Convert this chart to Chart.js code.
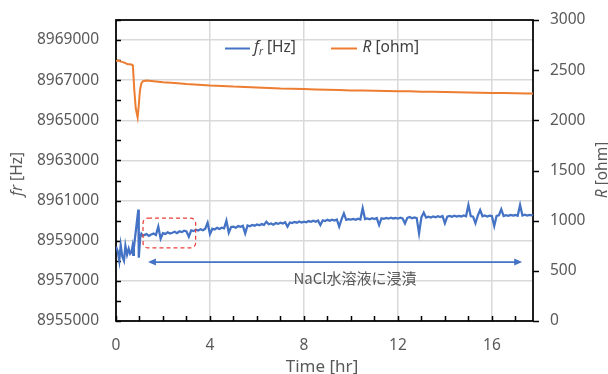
<!DOCTYPE html>
<html><head><meta charset="utf-8">
<script src="https://cdn.jsdelivr.net/npm/chart.js@4.4.1/dist/chart.umd.min.js"></script>
<style>html,body{margin:0;padding:0;background:#fff;}#wrap{width:608px;height:374px;}</style>
</head><body><div id="wrap"><canvas id="c" width="608" height="374"></canvas></div>
<script>
// ---- data ----
const fTime = [0.00,0.07,0.14,0.20,0.27,0.34,0.40,0.47,0.54,0.60,0.66,0.70,0.73,0.76,0.95,0.97,1.03,1.08,1.14,
1.2,1.3,1.4,1.5,1.6,1.7,1.8,1.9,2.0,2.1,2.2,2.3,2.4,2.5,2.6,2.7,2.8,2.9,3.0,3.1,3.2,3.3,3.4,3.5,3.6,3.7,3.8,3.9,
4.0,4.1,4.2,4.3,4.4,4.5,4.6,4.7,4.8,4.9,5.0,5.1,5.2,5.3,5.4,5.5,5.6,5.7,5.8,5.9,6.0,6.1,6.2,6.3,6.4,6.5,6.6,6.7,6.8,6.9,
7.0,7.1,7.2,7.3,7.4,7.5,7.6,7.7,7.8,7.9,8.0,8.1,8.2,8.3,8.4,8.5,8.6,8.7,8.8,8.9,9.0,9.1,9.2,9.3,9.4,9.5,9.6,9.7,9.8,9.9,
10.0,10.1,10.2,10.3,10.4,10.5,10.6,10.7,10.8,10.9,11.0,11.1,11.2,11.3,11.4,11.5,11.6,11.7,11.8,11.9,
12.0,12.1,12.2,12.3,12.4,12.5,12.6,12.7,12.8,12.9,13.0,13.1,13.2,13.3,13.4,13.5,13.6,13.7,13.8,13.9,
14.0,14.1,14.2,14.3,14.4,14.5,14.6,14.7,14.8,14.9,15.0,15.1,15.2,15.3,15.4,15.5,15.6,15.7,15.8,15.9,
16.0,16.1,16.2,16.3,16.4,16.5,16.6,16.7,16.8,16.9,17.0,17.1,17.2,17.3,17.4,17.5,17.6,17.7,17.75];
const fHz = [8958700,8958500,8958000,8958780,8958200,8958000,8958750,8958300,8958600,8958350,8958450,8958700,8958300,8958650,8960550,8958150,8959150,8959350,8959260,
8959280,8959330,8959240,8959310,8959360,8959290,8959700,8959100,8959380,8959340,8959420,8959360,8959400,8959450,8959380,8959470,8959430,8959500,8959460,8959200,8959520,8959480,8959550,8959510,8959570,8959520,8959600,8959900,
8959330,8959600,8959560,8959640,8959590,8959650,8959620,8960000,8959400,8959680,8959700,8959650,8959730,8959690,8959740,8959370,8959760,8959720,8959790,8959750,8959810,8959770,8959830,8959790,8959950,8959820,8959860,8959800,8959880,8959840,
8959900,8959860,8959920,8959700,8959910,8959880,8959940,8959900,8959960,8959910,8959950,8959920,8959980,8959940,8960000,8959950,8960010,8959780,8960020,8959980,8960040,8959990,8960050,8960010,8960060,8959700,8960060,8960360,8960040,8960080,
8960050,8960090,8960040,8960100,8960060,8960620,8960080,8960110,8960070,8960120,8960080,8960130,8959780,8960120,8960090,8960140,8960100,8960150,8960110,8960140,
8960100,8960150,8960110,8959860,8960140,8960180,8960120,8960160,8960130,8959370,8960170,8960400,8960150,8960200,8960160,8960210,8960170,8960220,8960180,8960230,
8959870,8960200,8960240,8960190,8960250,8960200,8960240,8960210,8960260,8960220,8960780,8960230,8960200,8959870,8960250,8960530,8960220,8960260,8960210,8960250,
8960230,8959730,8960240,8960270,8960570,8960230,8960270,8960240,8960290,8960250,8960280,8960240,8960780,8960260,8960300,8960250,8960290,8960270,8960300];
const rTime = [0.00,0.1,0.2,0.3,0.4,0.5,0.6,0.7,0.72,0.78,0.84,0.92,0.97,1.02,1.08,1.15,1.3,1.5,2.0,2.5,3.0,3.5,4.0,4.5,5.0,5.5,6.0,6.5,7.0,7.5,
8.0,8.5,9.0,9.5,10.0,10.5,11.0,11.5,12.0,12.5,13.0,13.5,14.0,14.5,15.0,15.5,16.0,16.5,17.0,17.5,17.75];
const rOhm = [2592,2598,2585,2580,2570,2560,2558,2552,2540,2300,2120,2030,2150,2300,2370,2390,2396,2392,2380,2372,2362,2355,2346,2343,2336,2333,2327,2323,2318,2316,
2312,2308,2305,2303,2298,2297,2294,2292,2290,2289,2285,2285,2282,2281,2278,2276,2273,2272,2270,2268,2268];
const xTicks = [0,4,8,12,16];
const fTicks = [8955000,8957000,8959000,8961000,8963000,8965000,8967000,8969000];
const rTicks = [0,500,1000,1500,2000,2500,3000];
const noteText = 'NaCl水溶液に浸漬';
const boxRange = {x0:1.15, x1:3.39, y0:8958640, y1:8960130};
const arrowRange = {x0:1.36, x1:17.29, y:8957940};

// ---- styles ----
const FONT = '"Noto Sans", sans-serif';
const GRAY = '#595959';
const BLUE = '#4472C4', ORANGE = '#ED7D31';

function richText(ctx, parts, x, y, align) {
  let w = 0;
  parts.forEach(p => { ctx.font = p.font; p.w = ctx.measureText(p.t).width; w += p.w; });
  let cx = align === 'center' ? x - w/2 : x;
  parts.forEach(p => { ctx.font = p.font; ctx.fillText(p.t, cx, y + (p.dy||0)); cx += p.w; });
}
function noPad(s) { s.paddingTop = 0; s.paddingBottom = 0; s.paddingLeft = 0; s.paddingRight = 0; }

const overlay = {
  id: 'overlay',
  beforeDatasetsDraw(chart) {
    const {ctx, chartArea: a, scales} = chart;
    ctx.save();
    ctx.strokeStyle = '#000';
    ctx.lineWidth = 1.5;
    ctx.beginPath();
    const yl = scales.yL, yr = scales.yR, x = scales.x;
    for (let v = yl.min; v <= yl.max; v += 1000) {
      const p = Math.round(yl.getPixelForValue(v)) + 0.5;
      ctx.moveTo(a.left, p); ctx.lineTo(a.left + 5, p);
    }
    for (let v = 0; v <= x.max; v += 1) {
      const p = Math.round(x.getPixelForValue(v)) + 0.5;
      ctx.moveTo(p, a.bottom); ctx.lineTo(p, a.bottom - 5);
    }
    for (let v = yr.min; v <= yr.max; v += 500) {
      const p = Math.round(yr.getPixelForValue(v)) + 0.5;
      ctx.moveTo(a.right, p); ctx.lineTo(a.right + 6, p);
    }
    ctx.stroke();
    ctx.lineWidth = 1.75;
    ctx.strokeRect(a.left, a.top, a.right - a.left, a.bottom - a.top);
    ctx.restore();
  },
  afterDatasetsDraw(chart) {
    const {ctx, chartArea: a, scales} = chart;
    const x = scales.x, yl = scales.yL;
    ctx.save();
    // red dashed box
    const bx0 = x.getPixelForValue(boxRange.x0), bx1 = x.getPixelForValue(boxRange.x1);
    const by0 = yl.getPixelForValue(boxRange.y1), by1 = yl.getPixelForValue(boxRange.y0);
    ctx.strokeStyle = '#E8403C'; ctx.lineWidth = 1.25; ctx.setLineDash([4,3]);
    ctx.beginPath(); ctx.roundRect(bx0, by0, bx1 - bx0, by1 - by0, 5); ctx.stroke();
    ctx.setLineDash([]);
    // double arrow
    const ax0 = x.getPixelForValue(arrowRange.x0), ax1 = x.getPixelForValue(arrowRange.x1);
    const ay = yl.getPixelForValue(arrowRange.y);
    ctx.strokeStyle = BLUE; ctx.fillStyle = BLUE; ctx.lineWidth = 1.75;
    ctx.beginPath(); ctx.moveTo(ax0 + 4, ay); ctx.lineTo(ax1 - 4, ay); ctx.stroke();
    ctx.beginPath(); ctx.moveTo(ax0, ay); ctx.lineTo(ax0 + 8, ay - 3.5); ctx.lineTo(ax0 + 8, ay + 3.5); ctx.closePath(); ctx.fill();
    ctx.beginPath(); ctx.moveTo(ax1, ay); ctx.lineTo(ax1 - 8, ay - 3.5); ctx.lineTo(ax1 - 8, ay + 3.5); ctx.closePath(); ctx.fill();
    // note text
    ctx.fillStyle = GRAY; ctx.textAlign = 'center'; ctx.textBaseline = 'middle';
    ctx.font = '15px "Noto Sans CJK JP", ' + FONT;
    ctx.fillText(noteText, 355, 278);
    // legend
    ctx.textAlign = 'left'; ctx.textBaseline = 'alphabetic';
    ctx.lineWidth = 2;
    ctx.strokeStyle = BLUE; ctx.beginPath(); ctx.moveTo(225, 48.5); ctx.lineTo(250, 48.5); ctx.stroke();
    ctx.strokeStyle = ORANGE; ctx.beginPath(); ctx.moveTo(331, 48.5); ctx.lineTo(357, 48.5); ctx.stroke();
    ctx.fillStyle = '#404040';
    richText(ctx, [{t:'f', font:'italic 15.5px ' + FONT}, {t:'r', font:'italic 10px ' + FONT, dy:3}, {t:' [Hz]', font:'15.5px ' + FONT}], 254, 51.5, 'left');
    richText(ctx, [{t:'R', font:'italic 15.5px ' + FONT}, {t:' [ohm]', font:'15.5px ' + FONT}], 362.5, 51.5, 'left');
    ctx.restore();
  },
  afterDraw(chart) {
    const {ctx} = chart;
    ctx.save();
    ctx.fillStyle = GRAY; ctx.textBaseline = 'alphabetic';
    ctx.translate(22, 174); ctx.rotate(-Math.PI/2);
    richText(ctx, [{t:'fr', font:'italic 15.5px ' + FONT}, {t:' [Hz]', font:'15.5px ' + FONT}], 0, 0, 'center');
    ctx.restore();
    ctx.save();
    ctx.fillStyle = GRAY; ctx.textBaseline = 'alphabetic';
    ctx.translate(606.5, 170); ctx.rotate(-Math.PI/2);
    richText(ctx, [{t:'R', font:'italic 15.5px ' + FONT}, {t:' [ohm]', font:'15.5px ' + FONT}], 0, 0, 'center');
    ctx.restore();
    ctx.save();
    ctx.fillStyle = GRAY; ctx.textBaseline = 'alphabetic'; ctx.textAlign = 'center';
    ctx.font = '17px ' + FONT;
    ctx.fillText('Time [hr]', 322, 371.5);
    ctx.restore();
  }
};

const tickFont = {family: FONT, size: 15.5};
new Chart(document.getElementById('c'), {
  type: 'line',
  data: {
    datasets: [
      {label: 'fr [Hz]', data: fTime.map((t, i) => ({x: t, y: fHz[i]})), borderColor: BLUE, borderWidth: 2.25, pointRadius: 0, xAxisID: 'x', yAxisID: 'yL', tension: 0},
      {label: 'R [ohm]', data: rTime.map((t, i) => ({x: t, y: rOhm[i]})), borderColor: ORANGE, borderWidth: 2, pointRadius: 0, xAxisID: 'x', yAxisID: 'yR', tension: 0}
    ]
  },
  options: {
    responsive: false, animation: false, devicePixelRatio: 1,
    layout: {padding: {top: 20, left: 0, right: 0, bottom: 0}},
    plugins: {legend: {display: false}, tooltip: {enabled: false}},
    scales: {
      x: {type: 'linear', min: 0, max: 17.75, position: 'bottom',
        afterBuildTicks: s => { s.ticks = xTicks.map(v => ({value: v})); },
        afterFit: s => { s.height = 53; noPad(s); },
        grid: {color: '#d9d9d9', lineWidth: 1.5, drawTicks: false},
        border: {display: false},
        ticks: {color: GRAY, font: tickFont, padding: 15, maxRotation: 0, autoSkip: false}},
      yL: {type: 'linear', position: 'left', min: 8955000, max: 8970000,
        afterBuildTicks: s => { s.ticks = fTicks.map(v => ({value: v})); },
        afterFit: s => { s.width = 116; noPad(s); },
        grid: {color: '#d9d9d9', lineWidth: 1.5, drawTicks: false},
        border: {display: false},
        ticks: {color: GRAY, font: tickFont, padding: 17, callback: v => String(v)}},
      yR: {type: 'linear', position: 'right', min: 0, max: 3000,
        afterBuildTicks: s => { s.ticks = rTicks.map(v => ({value: v})); },
        afterFit: s => { s.width = 75; noPad(s); },
        grid: {display: false, drawTicks: false},
        border: {display: false},
        ticks: {color: GRAY, font: tickFont, padding: 17, callback: v => String(v)}}
    }
  },
  plugins: [overlay]
});
</script>
</body></html>
